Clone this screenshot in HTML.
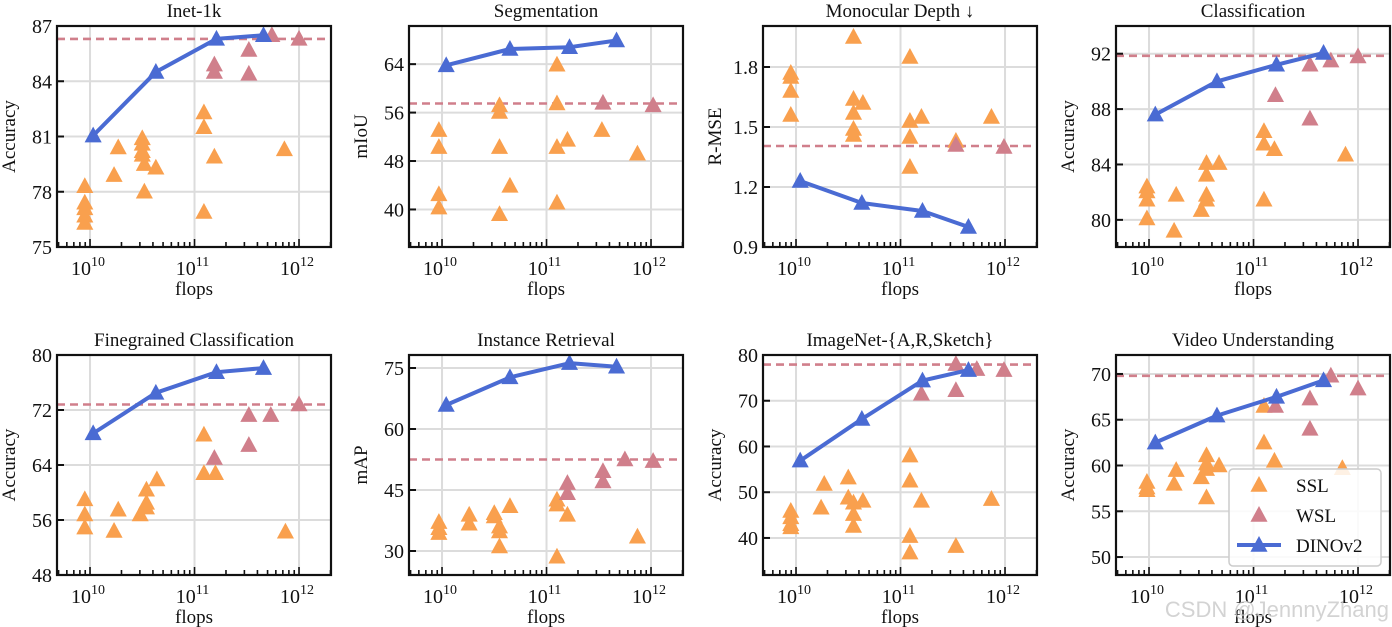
<!DOCTYPE html>
<html><head><meta charset="utf-8">
<style>
html,body{margin:0;padding:0;background:#fff;}
svg{display:block;font-family:"Liberation Serif","DejaVu Serif",serif;}
</style></head>
<body>
<svg id="chart" width="1392" height="627" viewBox="0 0 1392 627"></svg>
<script>
// ---- data (x = log10 flops) ----
const titles = ["Inet-1k","Segmentation","Monocular Depth \u2193","Classification","Finegrained Classification","Instance Retrieval","ImageNet-{A,R,Sketch}","Video Understanding"];
const yLabels = ["Accuracy","mIoU","R-MSE","Accuracy","Accuracy","mAP","Accuracy","Accuracy"];
const yDomains = [[75,87],[33.8,70.3],[0.9,2.005],[78.04,94.0],[48,80],[24.1,78.2],[31.9,80],[48.04,72.07]];
const yTicks = [[75,78,81,84,87],[40,48,56,64],[0.9,1.2,1.5,1.8],[80,84,88,92],[48,56,64,72,80],[30,45,60,75],[40,50,60,70,80],[50,55,60,65,70]];
const yTickLabels = [["75","78","81","84","87"],["40","48","56","64"],["0.9","1.2","1.5","1.8"],["80","84","88","92"],["48","56","64","72","80"],["30","45","60","75"],["40","50","60","70","80"],["50","55","60","65","70"]];
const dinoX = [[10.03,10.63,11.21,11.66],[10.04,10.65,11.22,11.67],[10.04,10.63,11.21,11.65],[10.06,10.65,11.22,11.67],[10.03,10.63,11.21,11.66],[10.04,10.65,11.22,11.67],[10.04,10.63,11.21,11.65],[10.06,10.65,11.22,11.67]];
const dinoY = [[81.05,84.5,86.3,86.5],[63.8,66.5,66.8,67.9],[1.23,1.12,1.08,1.0],[87.6,90.0,91.2,92.05],[68.6,74.5,77.5,78.1],[65.9,72.7,76.2,75.3],[56.9,66.0,74.4,76.7],[62.5,65.45,67.5,69.3]];
const wslX = [[11.19,11.19,11.52,11.52,11.74,12.0],[11.54,12.02],[11.53,11.99],[11.21,11.54,11.54,11.74,12.0],[11.19,11.52,11.52,11.73,12.0],[11.2,11.2,11.54,11.54,11.75,12.02],[11.2,11.53,11.53,11.73,11.99],[11.21,11.54,11.54,11.74,12.0]];
const wslY = [[84.9,84.5,85.7,84.4,86.5,86.3],[57.6,57.2],[1.41,1.40],[89.0,91.2,87.3,91.5,91.8],[65.0,71.25,66.9,71.25,72.8],[46.7,44.2,49.6,47.1,52.5,52.1],[71.5,78.0,72.3,76.9,76.7],[66.5,67.3,64.0,69.8,68.4]];
const wslBest = [86.3,57.5,1.405,91.85,72.8,52.5,77.9,69.8];
const sslX = [
 [9.95,9.95,9.95,9.95,9.95,10.27,10.23,10.5,10.5,10.5,10.5,10.52,10.52,10.63,11.09,11.09,11.09,11.19,11.86],
 [9.97,9.97,9.97,9.97,10.55,10.55,10.55,10.55,10.65,11.1,11.1,11.1,11.1,11.2,11.53,11.87],
 [9.95,9.95,9.95,9.95,10.55,10.55,10.55,10.55,10.55,10.64,11.09,11.09,11.09,11.09,11.2,11.53,11.87],
 [9.98,9.98,9.98,9.98,10.26,10.24,10.5,10.55,10.55,10.55,10.55,10.67,11.1,11.1,11.1,11.2,11.88],
 [9.95,9.95,9.95,10.27,10.23,10.48,10.54,10.54,10.54,10.64,11.09,11.09,11.2,11.87],
 [9.97,9.97,9.97,10.26,10.26,10.5,10.5,10.55,10.55,10.55,10.65,11.1,11.1,11.1,11.2,11.87],
 [9.95,9.95,9.95,9.95,10.24,10.27,10.5,10.5,10.55,10.55,10.55,10.64,11.09,11.09,11.09,11.09,11.2,11.53,11.87],
 [9.98,9.98,9.98,10.26,10.24,10.5,10.55,10.55,10.55,10.55,10.67,11.1,11.1,11.2,11.85]
];
const sslY = [
 [78.3,77.4,77.1,76.7,76.3,80.4,78.9,80.9,80.6,80.2,80.0,79.5,78.0,79.3,82.3,81.5,76.9,79.9,80.3],
 [53.1,50.3,42.5,40.3,57.2,56.1,50.3,39.2,43.9,63.9,57.5,50.3,41.1,51.5,53.1,49.2],
 [1.77,1.75,1.68,1.56,1.95,1.64,1.57,1.49,1.46,1.62,1.85,1.53,1.45,1.30,1.55,1.43,1.55],
 [82.4,82.05,81.45,80.1,81.8,79.2,80.7,84.1,83.25,81.8,81.45,84.1,86.4,85.5,81.45,85.1,84.7],
 [59.0,56.8,54.9,57.5,54.4,56.8,60.4,58.5,57.8,61.9,68.4,62.8,62.8,54.3],
 [37.1,35.6,34.4,38.9,36.7,39.3,38.5,36.0,34.8,31.1,41.0,42.6,41.4,28.6,38.9,33.5],
 [45.9,44.5,43.0,42.3,46.6,51.8,53.2,48.8,47.7,45.2,42.6,48.1,58.0,52.5,40.4,36.8,48.1,38.2,48.5],
 [58.2,57.6,57.3,59.5,58.0,58.7,61.1,60.2,59.6,56.5,60.0,66.5,62.5,60.5,59.7]
];
const xTickLabels = ["10","10","10"];
const xTickExps = [10,11,12];
const legendLabels = ["SSL","WSL","DINOv2"];

// ---- layout ----
const NS = "http://www.w3.org/2000/svg";
const svg = document.getElementById("chart");
const lefts = [57,409,763,1116];
const W = 274;
const tops = [26,355], H = [221,220];
const XMIN = 9.684, XMAX = 12.306;
const C_SSL = "#f9a04e", C_WSL = "#d07f8b", C_DINO = "#4a6bd3";

function el(tag, attrs, parent){
  const e = document.createElementNS(NS, tag);
  for (const k in attrs) e.setAttribute(k, attrs[k]);
  (parent||svg).appendChild(e);
  return e;
}
function tri(g, cx, cy, color, s){
  s = s||9;
  const p = `${cx},${cy-s} ${cx-s*0.95},${cy+s*0.75} ${cx+s*0.95},${cy+s*0.75}`;
  return el("polygon",{points:p, fill:color}, g);
}

for (let i=0;i<8;i++){
  const L = lefts[i%4], T = tops[Math.floor(i/4)], h = H[Math.floor(i/4)];
  const [y0,y1] = yDomains[i];
  const xs = v => L + (v - XMIN)/(XMAX-XMIN)*W;
  const ys = v => T + h - (v - y0)/(y1-y0)*h;
  const g = el("g",{});
  
  
  const grid = el("g",{},g);
  
  
  xTickExps.forEach(e=>{ el("line",{x1:xs(e),x2:xs(e),y1:T,y2:T+h,stroke:"#dcdcdc","stroke-width":2},grid); });
  yTicks[i].forEach(v=>{ el("line",{x1:L,x2:L+W,y1:ys(v),y2:ys(v),stroke:"#dcdcdc","stroke-width":2},grid); });
  const dl = el("line",{x1:L,x2:L+W,y1:ys(wslBest[i]),y2:ys(wslBest[i]),stroke:C_WSL,"stroke-width":2.6,"stroke-dasharray":"8 5"},g);
  
  
  sslX[i].forEach((x,j)=>{
    const t = tri(g, xs(x), ys(sslY[i][j]), C_SSL);
    
    
  });
  wslX[i].forEach((x,j)=>{
    const t = tri(g, xs(x), ys(wslY[i][j]), C_WSL);
    
    
  });
  const pts = dinoX[i].map((x,j)=>xs(x)+","+ys(dinoY[i][j])).join(" ");
  const pl = el("polyline",{points:pts,fill:"none",stroke:C_DINO,"stroke-width":4,"stroke-linejoin":"round"},g);
  
  
  dinoX[i].forEach((x,j)=>{
    const t = tri(g, xs(x), ys(dinoY[i][j]), C_DINO);
    
    
  });
  const fr = el("rect",{x:L,y:T,width:W,height:h,fill:"none",stroke:"#111","stroke-width":2.2},g);
  
  
  yTicks[i].forEach((v,k)=>{
    el("line",{x1:L,x2:L+7,y1:ys(v),y2:ys(v),stroke:"#111","stroke-width":2},g);
    const t = el("text",{x:L-5,y:ys(v)+7,"text-anchor":"end","font-size":20,fill:"#111"},g);
    t.textContent = yTickLabels[i][k];
    
    
  });
  for (let e=9;e<=12;e++){
    for (let m=1;m<=9;m++){
      const v = e + Math.log10(m);
      if (v < XMIN || v > XMAX) continue;
      const len = m===1 ? 8 : 5;
      el("line",{x1:xs(v),x2:xs(v),y1:T+h,y2:T+h-len,stroke:"#111","stroke-width":1.6},g);
    }
  }
  xTickExps.forEach((e,k)=>{
    const t = el("text",{x:xs(e)-2,y:T+h+28,"text-anchor":"middle","font-size":20,fill:"#111"},g);
    
    
    t.textContent = xTickLabels[k];
    const s = el("tspan",{dy:-9,"font-size":14},t);
    s.textContent = String(e);
  });
  const xl = el("text",{x:L+W/2,y:T+h+48,"text-anchor":"middle","font-size":19,fill:"#111"},g);
  xl.textContent = "flops";
  
  
  const yl = el("text",{x:0,y:0,"text-anchor":"middle","font-size":19,fill:"#111",transform:`translate(${L-42},${T+h/2}) rotate(-90)`},g);
  yl.textContent = yLabels[i];
  
  
  const tt = el("text",{x:L+W/2,y:T-9,"text-anchor":"middle","font-size":19,fill:"#111"},g);
  tt.textContent = titles[i];
  
  
}
const lg = el("g",{});


el("rect",{x:1229,y:469,width:152,height:97,rx:4,fill:"#fff","fill-opacity":0.85,stroke:"#ccc","stroke-width":1.5},lg);
const ly = [485,515,545];
const lc = [C_SSL,C_WSL,C_DINO];
legendLabels.forEach((lab,k)=>{
  if (k===2) el("line",{x1:1237,x2:1281,y1:ly[k],y2:ly[k],stroke:C_DINO,"stroke-width":4},lg);
  tri(lg,1259,ly[k],lc[k]);
  const t = el("text",{x:1296,y:ly[k]+7,"font-size":19,fill:"#111"},lg);
  t.textContent = lab;
  
  
});
const wm = el("text",{x:1389,y:617,"text-anchor":"end","font-family":"Liberation Sans, sans-serif","font-size":22,fill:"#c8c8c8","fill-opacity":0.8});
wm.textContent = "CSDN @JennnyZhang";


</script>
</body></html>
